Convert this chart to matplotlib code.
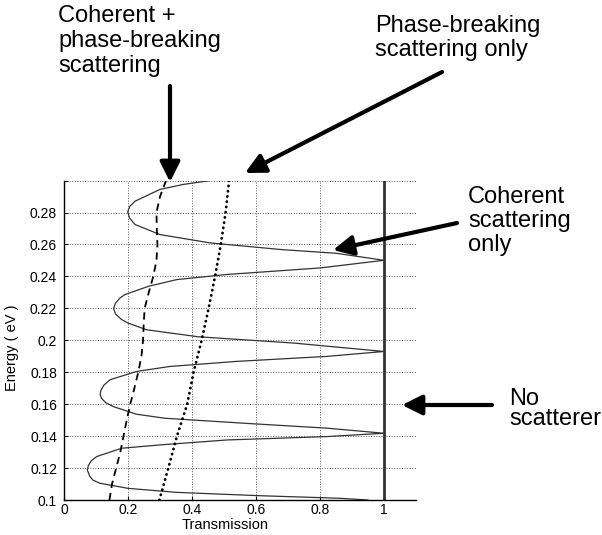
import numpy as np
import matplotlib.pyplot as plt

plt.rcParams['font.family'] = ['Liberation Sans', 'DejaVu Sans']

# energy (eV) and transmission, coherent scattering only
e_coh = [0.1000, 0.1011, 0.1027, 0.1048, 0.1073, 0.1105, 0.1125, 0.1150, 0.1188,
         0.1215, 0.1245, 0.1272, 0.1324, 0.1345, 0.1376, 0.1397, 0.1418, 0.1450,
         0.1481, 0.1512, 0.1537, 0.1585, 0.1610, 0.1635, 0.1659, 0.1685, 0.1720,
         0.1753, 0.1805, 0.1836, 0.1868, 0.1899, 0.1930, 0.1983, 0.2022, 0.2066,
         0.2108, 0.2130, 0.2165, 0.2198, 0.2230, 0.2265, 0.2286, 0.2338, 0.2380,
         0.2412, 0.2453, 0.2501, 0.2545, 0.2568, 0.2610, 0.2662, 0.2725, 0.2765,
         0.2805, 0.2840, 0.2871, 0.2945, 0.2976, 0.3000]
t_coh = [0.95, 0.86, 0.61, 0.35, 0.20, 0.112, 0.090, 0.080, 0.073,
         0.076, 0.085, 0.102, 0.18, 0.30, 0.51, 0.82, 1.00, 0.82,
         0.56, 0.315, 0.227, 0.154, 0.130, 0.118, 0.113, 0.115, 0.125,
         0.144, 0.227, 0.33, 0.54, 0.82, 1.00, 0.716, 0.42, 0.258,
         0.200, 0.180, 0.161, 0.155, 0.160, 0.175, 0.19, 0.264, 0.352,
         0.508, 0.80, 1.00, 0.85, 0.68, 0.456, 0.30, 0.222, 0.205,
         0.199, 0.206, 0.222, 0.30, 0.373, 0.456]

# coherent + phase-breaking scattering
e_both = [0.10, 0.11, 0.12, 0.13, 0.14, 0.15, 0.16, 0.17, 0.18, 0.19, 0.20,
          0.21, 0.22, 0.23, 0.24, 0.25, 0.26, 0.27, 0.28, 0.29, 0.30]
t_both = [0.142, 0.150, 0.163, 0.176, 0.186, 0.196, 0.207, 0.220, 0.232, 0.242, 0.247,
          0.249, 0.252, 0.265, 0.279, 0.289, 0.292, 0.290, 0.289, 0.300, 0.319]

# phase-breaking scattering only
e_phase = [0.10, 0.12, 0.14, 0.16, 0.18, 0.20, 0.22, 0.24, 0.26, 0.28, 0.30]
t_phase = [0.298, 0.326, 0.353, 0.385, 0.405, 0.430, 0.452, 0.472, 0.490, 0.505, 0.516]

# no scatterer
e_none = [0.1, 0.3]
t_none = [1.0, 1.0]

xticks = [0, 0.2, 0.4, 0.6, 0.8, 1.0]
xticklabels = ['0', '0.2', '0.4', '0.6', '0.8', '1']
yticks = [0.1, 0.12, 0.14, 0.16, 0.18, 0.2, 0.22, 0.24, 0.26, 0.28, 0.3]
yticklabels = ['0.1', '0.12', '0.14', '0.16', '0.18', '0.2', '0.22', '0.24', '0.26', '0.28', '']

W, H = 602, 535
fig = plt.figure(figsize=(W / 100, H / 100), dpi=100)
ax = fig.add_axes([64 / W, 35 / H, 352 / W, 319.4 / H])

ax.plot(t_coh, e_coh, color='0.2', lw=0.9)
ax.plot(t_both, e_both, color='k', lw=1.3, linestyle=(0, (4.0, 2.8)))
ax.plot(t_phase, e_phase, color='k', lw=2.0, linestyle=(0, (0.1, 1.8)),
        dash_capstyle='round')
ax.plot(t_none, e_none, color='0.2', lw=2)

ax.set_xlim(0, 1.1)
ax.set_ylim(0.1, 0.3)
ax.set_xticks(xticks)
ax.set_xticklabels(xticklabels)
ax.set_yticks(yticks)
ax.set_yticklabels(yticklabels)
ax.tick_params(direction='in', length=3, width=0.8, labelsize=10)
ax.tick_params(axis='x', pad=2)
ax.tick_params(axis='y', pad=5)
ax.grid(True, color='0.35', linestyle=':', lw=0.7)
ax.spines['top'].set_visible(False)
ax.spines['right'].set_visible(False)
ax.spines['left'].set_linewidth(1.0)
ax.spines['bottom'].set_linewidth(1.0)

ax.set_xlabel('Transmission', fontsize=10.5, labelpad=0)
ax.xaxis.set_label_coords(0.457, -0.055)
ax.set_ylabel('Energy ( eV )', fontsize=10.5)
ax.yaxis.set_label_coords(-0.128, 0.476)

# annotation labels: (left x, first baseline y, line step) in image pixels
labels = [
    (['Coherent +', 'phase-breaking', 'scattering'], 58, 22, 25),
    (['Phase-breaking', 'scattering only'], 375, 32, 24),
    (['Coherent', 'scattering', 'only'], 468, 203, 24),
    (['No', 'scatterer'], 509, 405, 20),
]
for lines, x, y0, step in labels:
    for i, line in enumerate(lines):
        fig.text(x / W, (H - (y0 + i * step)) / H, line, fontsize=17,
                 ha='left', va='baseline')

# arrows: tail -> tip, image pixels
arrows = [
    ((170, 86), (170, 182)),
    ((442, 72), (245, 173)),
    ((457, 223), (333, 250)),
    ((492, 405), (402, 405)),
]
for (x0, y0), (x1, y1) in arrows:
    ax.annotate('', xy=(x1, H - y1), xytext=(x0, H - y0),
                xycoords='figure pixels', textcoords='figure pixels',
                arrowprops=dict(arrowstyle='-|>,head_length=0.6,head_width=0.3',
                                mutation_scale=20, lw=3, color='k',
                                shrinkA=0, shrinkB=0),
                annotation_clip=False)

fig.savefig('out.png', dpi=100)
